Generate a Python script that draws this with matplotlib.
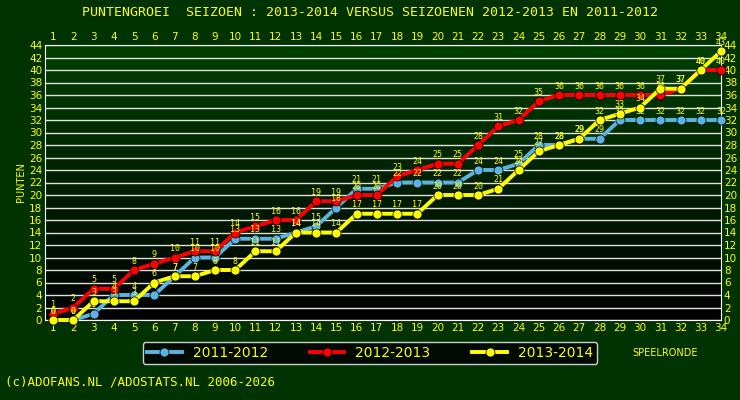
import numpy as np
import matplotlib.pyplot as plt
from matplotlib.colors import LinearSegmentedColormap

rounds = list(range(1, 35))
s2011 = [0, 0, 1, 4, 4, 4, 7, 10, 10, 13, 13, 13, 14, 15, 18, 21, 21,
         22, 22, 22, 22, 24, 24, 25, 28, 28, 29, 29, 32, 32, 32, 32, 32, 32]
s2012 = [1, 2, 5, 5, 8, 9, 10, 11, 11, 14, 15, 16, 16, 19, 19, 20, 20,
         23, 24, 25, 25, 28, 31, 32, 35, 36, 36, 36, 36, 36, 36, 37, 40, 40]
s2013 = [0, 0, 3, 3, 3, 6, 7, 7, 8, 8, 11, 11, 14, 14, 14, 17, 17,
         17, 17, 20, 20, 20, 21, 24, 27, 28, 29, 32, 33, 34, 37, 37, 40, 43]

series = [("2011-2012", s2011, '#5ab4e0'),
          ("2012-2013", s2012, '#ff0000'),
          ("2013-2014", s2013, '#ffff00')]

fig = plt.figure(figsize=(7.4, 4.0), dpi=100)
fig.patch.set_facecolor('#003300')
ax = fig.add_axes([45/740, 80/400, 676/740, 275/400])

# gradient background: black at bottom, dark green at top
grad = np.linspace(0, 1, 256).reshape(-1, 1)
cm = LinearSegmentedColormap.from_list('bg', ['#000000', '#004000'])
ax.imshow(grad, aspect='auto', cmap=cm, origin='lower',
          extent=[0.6, 34.0, 0, 44], zorder=0)

for y in range(0, 45, 2):
    ax.axhline(y, color='#e0e0e0', lw=1.0, zorder=1)

for name, vals, col in series:
    ax.plot(rounds, vals, '-o', color=col, lw=2.8, ms=6.5, mec='black', mew=0.5,
            label=name, zorder=3, clip_on=False)
    for r, v in zip(rounds, vals):
        ax.text(r, v + 0.7, str(v), color='#ffff00', fontsize=6,
                ha='center', va='bottom', family='DejaVu Sans Mono', zorder=4)

ax.set_xlim(0.6, 34.0)
ax.set_ylim(0, 44)
ax.set_xticks(rounds)
ax.set_yticks(range(0, 45, 2))
ax.tick_params(colors='#ffff00', labelsize=7.5, length=0, pad=2,
               top=True, labeltop=True, right=True, labelright=True)
for sp in ax.spines.values():
    sp.set_color('#ffffff')
    sp.set_linewidth(0.8)
ax.set_ylabel('PUNTEN', color='#ffff00', fontsize=7, labelpad=2)

fig.text(0.5, 0.97, 'PUNTENGROEI  SEIZOEN : 2013-2014 VERSUS SEIZOENEN 2012-2013 EN 2011-2012',
         color='#ffff00', fontsize=9.5, ha='center', va='center',
         family='DejaVu Sans Mono')
fig.text(632/740, 1 - 353/400, 'SPEELRONDE', color='#ffff00', fontsize=7,
         ha='left', va='center')
fig.text(5/740, 1 - 382/400, '(c)ADOFANS.NL /ADOSTATS.NL 2006-2026',
         color='#ffff00', fontsize=9, ha='left', va='center',
         family='DejaVu Sans Mono')

leg = fig.legend(loc='center', bbox_to_anchor=(370/740, 1 - 353/400), ncol=3,
                 frameon=True, fontsize=10, handlelength=2.5, columnspacing=3,
                 borderpad=0.3)
leg.get_frame().set_facecolor('#000000')
leg.get_frame().set_edgecolor('#ffffff')
for t in leg.get_texts():
    t.set_color('#ffff00')

fig.savefig('out.png', dpi=100, facecolor=fig.get_facecolor())
